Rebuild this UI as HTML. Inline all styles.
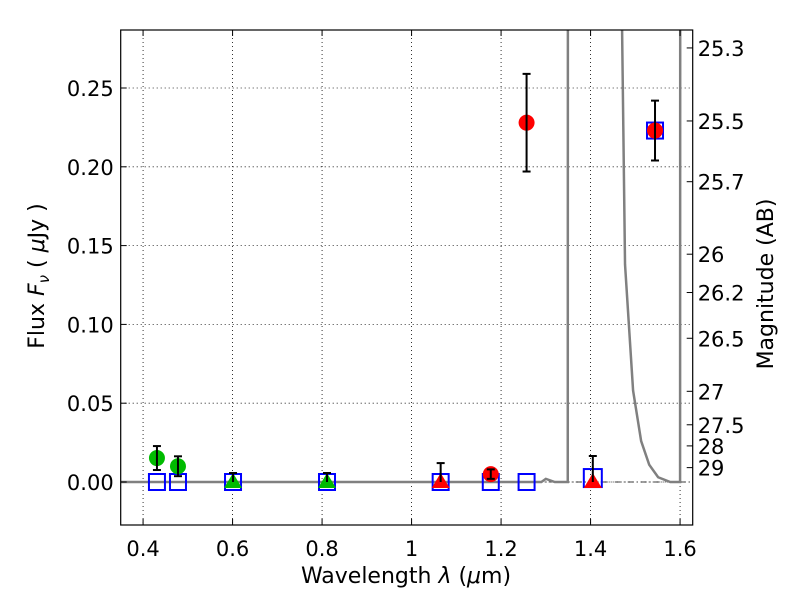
<!DOCTYPE html>
<html><head><meta charset="utf-8"><style>
body{margin:0;background:#fff}
svg{display:block;font-family:"DejaVu Sans","Liberation Sans",sans-serif}
</style></head><body>
<svg id="c" width="800" height="600"></svg>
<script>
const xTicks=[0.4,0.6,0.8,1.0,1.2,1.4,1.6];
const xTickLabels=["0.4","0.6","0.8","1","1.2","1.4","1.6"];
const yTicks=[0,0.05,0.10,0.15,0.20,0.25];
const yTickLabels=["0.00","0.05","0.10","0.15","0.20","0.25"];
const magTicks=[25.3,25.5,25.7,26,26.2,26.5,27,27.5,28,29];
const magTickLabels=["25.3","25.5","25.7","26","26.2","26.5","27","27.5","28","29"];
const curveWl=[0.35,1.29,1.30,1.32,1.349,1.35,1.461,1.477,1.495,1.513,1.531,1.551,1.578,1.6,1.601];
const curveVal=[0,0,0.002,0,0,1.0,0.5,0.138,0.058,0.026,0.011,0.003,0,0,1.0];
const greenCircWl=[0.431,0.478];
const greenCircVal=[0.0152,0.010];
const greenCircErr=[0.0076,0.0063];
const greenTriWl=[0.601,0.811];
const greenTriVal=[0,0];
const greenTriErr=[0.0057,0.0057];
const redTriWl=[1.065,1.405];
const redTriVal=[0,0];
const redTriErr=[0.012,0.0165];
const redCircWl=[1.177,1.257,1.544];
const redCircVal=[0.005,0.228,0.223];
const redCircErr=[0.003,0.031,0.019];
const sqWl=[0.431,0.478,0.601,0.811,1.065,1.177,1.257,1.405,1.544];
const sqVal=[0,0,0,0,0,0,0,0.0025,0.223];
const sqSize=[16,16,16,16,16,16,16,18,16];

const L=120.7,R=692.7,T=30,B=525;
const X0=0.35,XS=447.5;
const Y0=482,YS=1576;
const xs=v=>L+(v-X0)*XS;
const ys=v=>Y0-v*YS;
const NS="http://www.w3.org/2000/svg";
const svg=document.getElementById('c');
function mk(tag,attrs,parent){const e=document.createElementNS(NS,tag);for(const k in attrs)e.setAttribute(k,attrs[k]);(parent||svg).appendChild(e);return e;}
const defs=mk('defs',{});
const cp=mk('clipPath',{id:'clip'},defs);mk('rect',{x:L,y:T,width:R-L,height:B-T},cp);
const plot=mk('g',{'clip-path':'url(#clip)'});

xTicks.forEach(t=>{const l=mk('line',{x1:xs(t),x2:xs(t),y1:T,y2:B,stroke:'#000','stroke-width':0.8,'stroke-dasharray':'1,3'},plot);

});
yTicks.forEach(t=>{const l=mk('line',{x1:L,x2:R,y1:ys(t),y2:ys(t),stroke:'#000','stroke-width':0.8,'stroke-dasharray':'1,3'},plot);

});
const zl=mk('line',{x1:L,x2:R,y1:ys(0),y2:ys(0),stroke:'#000','stroke-width':0.8,'stroke-dasharray':'6,3,1,3'},plot);


const cpts=curveWl.map((w,i)=>xs(w)+','+ys(curveVal[i])).join(' ');
const cv=mk('polyline',{points:cpts,fill:'none',stroke:'#808080','stroke-width':2.5},plot);



function errbar(w,v,e,name,upOnly){const g=mk('g',{stroke:'#000','stroke-width':2},plot);


const x=xs(w);const lo=upOnly?v:v-e;
mk('line',{x1:x,x2:x,y1:ys(lo),y2:ys(v+e)},g);
if(!upOnly)mk('line',{x1:x-4,x2:x+4,y1:ys(v-e),y2:ys(v-e)},g);
mk('line',{x1:x-4,x2:x+4,y1:ys(v+e),y2:ys(v+e)},g);}
function circ(w,v,col,name){const c=mk('circle',{cx:xs(w),cy:ys(v),r:8,fill:col},plot);

}
function tri(w,v,col,name){const x=xs(w),y=ys(v);const p=mk('polygon',{points:`${x},${y-9} ${x-9},${y+6} ${x+9},${y+6}`,fill:col},plot);

}

sqWl.forEach((w,i)=>{const s=sqSize[i];const r=mk('rect',{x:xs(w)-s/2,y:ys(sqVal[i])-s/2,width:s,height:s,fill:'none',stroke:'#0000ff','stroke-width':2},plot);

});
greenCircWl.forEach((w,i)=>{circ(w,greenCircVal[i],'#00bb00','green-circle');errbar(w,greenCircVal[i],greenCircErr[i],'green-circle-errorbar');});
greenTriWl.forEach((w,i)=>{tri(w,greenTriVal[i],'#00bb00','green-triangle');errbar(w,greenTriVal[i],greenTriErr[i],'green-triangle-errorbar',true);});
redTriWl.forEach((w,i)=>{tri(w,redTriVal[i],'#ff0000','red-triangle');errbar(w,redTriVal[i],redTriErr[i],'red-triangle-errorbar',true);});
redCircWl.forEach((w,i)=>{circ(w,redCircVal[i],'#ff0000','red-circle');errbar(w,redCircVal[i],redCircErr[i],'red-circle-errorbar');});

const fr=mk('rect',{x:L,y:T,width:R-L,height:B-T,fill:'none',stroke:'#000','stroke-width':1.2});


xTicks.forEach((t,i)=>{const x=xs(t);mk('line',{x1:x,x2:x,y1:B,y2:B-6,stroke:'#000'});mk('line',{x1:x,x2:x,y1:T,y2:T+6,stroke:'#000'});
const tx=mk('text',{x:x,y:B+31,'font-size':21,'text-anchor':'middle'});tx.textContent=xTickLabels[i];

});
yTicks.forEach((t,i)=>{const y=ys(t);mk('line',{x1:L,x2:L+6,y1:y,y2:y,stroke:'#000'});
const tx=mk('text',{x:L-7,y:y+8,'font-size':21,'text-anchor':'end'});tx.textContent=yTickLabels[i];

});
magTicks.forEach((m,i)=>{const f=Math.pow(10,(23.9-m)/2.5);const y=ys(f);mk('line',{x1:R,x2:R-6,y1:y,y2:y,stroke:'#000'});
const tx=mk('text',{x:R+5,y:y+8,'font-size':21});tx.textContent=magTickLabels[i];

});
</script>
<script>
(function(){const svg=document.getElementById('c');const NS="http://www.w3.org/2000/svg";
const xl=document.createElementNS(NS,'text');xl.setAttribute('x',406);xl.setAttribute('y',583);xl.setAttribute('font-size',22);xl.setAttribute('text-anchor','middle');
xl.setAttribute('xml:space','preserve');
xl.innerHTML='Wavelength  <tspan font-style="italic">λ</tspan> (<tspan font-style="italic">μ</tspan>m)';


svg.appendChild(xl);
const yl=document.createElementNS(NS,'text');yl.setAttribute('transform','translate(44,276) rotate(-90)');yl.setAttribute('font-size',22);yl.setAttribute('text-anchor','middle');
yl.setAttribute('xml:space','preserve');
yl.innerHTML='Flux  <tspan font-style="italic">F</tspan><tspan font-style="italic" font-size="15" dy="5">ν</tspan><tspan dy="-5">  (  </tspan><tspan font-style="italic">μ</tspan>Jy )';


svg.appendChild(yl);
const rl=document.createElementNS(NS,'text');rl.setAttribute('transform','translate(773,284) rotate(-90)');rl.setAttribute('font-size',22);rl.setAttribute('text-anchor','middle');
rl.textContent='Magnitude (AB)';


svg.appendChild(rl);})();
</script>
</body></html>
